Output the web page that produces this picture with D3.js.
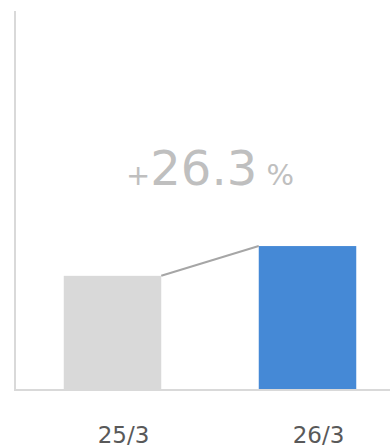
<!DOCTYPE html>
<html>
<head>
<meta charset="utf-8">
<script src="https://cdn.jsdelivr.net/npm/d3@7"></script>
<style>
  html, body { margin: 0; padding: 0; background: #fff; }
  svg { display: block; }
  text { font-family: "DejaVu Sans", Verdana, sans-serif; }
</style>
</head>
<body>
<svg id="chart" width="390" height="447"></svg>
<script>
// Period labels and index values (previous year = 100)
const categories = ["25/3", "26/3"];
const values = [100, 126.3];
const barColors = ["#d9d9d9", "#4589d6"];
const growthLabel = { sign: "+", number: "26.3", unit: " %" };

const svg = d3.select("#chart");
const W = 390, H = 447;

const x = d3.scaleBand()
  .domain(categories)
  .range([15, 405])
  .paddingInner(0.5)
  .paddingOuter(0.25);

const y = d3.scaleLinear()
  .domain([0, 334])
  .range([389, 11]);

// Axis lines
svg.append("line")
  .attr("x1", 15).attr("x2", 15)
  .attr("y1", y.range()[1]).attr("y2", 390)
  .attr("stroke", "#d9d9d9").attr("stroke-width", 2);
svg.append("line")
  .attr("x1", 14).attr("x2", W)
  .attr("y1", 390).attr("y2", 390)
  .attr("stroke", "#d9d9d9").attr("stroke-width", 2);

// Bars
svg.selectAll("rect.bar")
  .data(values)
  .join("rect")
  .attr("class", "bar")
  .attr("x", (d, i) => x(categories[i]))
  .attr("width", x.bandwidth())
  .attr("y", d => y(d))
  .attr("height", d => y(0) - y(d))
  .attr("fill", (d, i) => barColors[i]);

// Connector between bar tops
svg.append("line")
  .attr("x1", x(categories[0]) + x.bandwidth())
  .attr("y1", y(values[0]))
  .attr("x2", x(categories[1]))
  .attr("y2", y(values[1]))
  .attr("stroke", "#a6a6a6").attr("stroke-width", 2);

// Category labels
svg.selectAll("text.cat")
  .data(categories)
  .join("text")
  .attr("class", "cat")
  .attr("x", d => x(d) + x.bandwidth() / 2 + 11)
  .attr("y", 443)
  .attr("text-anchor", "middle")
  .attr("font-size", 23)
  .attr("fill", "#595959")
  .text(d => d);

// Growth label
const g = svg.append("text")
  .attr("x", 210)
  .attr("y", 185)
  .attr("text-anchor", "middle")
  .attr("fill", "#bfbfbf");
g.append("tspan").attr("font-size", 29).text(growthLabel.sign);
g.append("tspan").attr("font-size", 48).text(growthLabel.number);
g.append("tspan").attr("font-size", 29).text(growthLabel.unit);
</script>
</body>
</html>
